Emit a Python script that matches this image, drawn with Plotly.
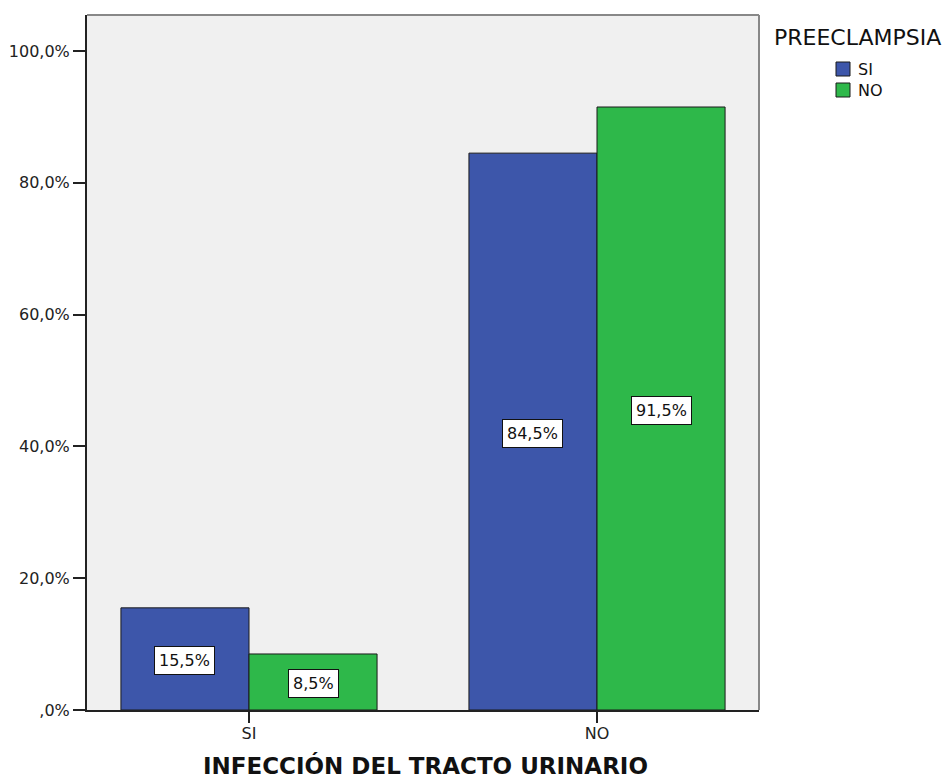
import plotly.graph_objects as go

# Data
categories = ["SI", "NO"]           # INFECCIÓN DEL TRACTO URINARIO
preeclampsia_si = [15.5, 84.5]      # % within PREECLAMPSIA = SI
preeclampsia_no = [8.5, 91.5]       # % within PREECLAMPSIA = NO
series_names = ["SI", "NO"]
y_tick_vals = [0, 20, 40, 60, 80, 100]
y_tick_text = [",0%", "20,0%", "40,0%", "60,0%", "80,0%", "100,0%"]

BLUE = "#3d56aa"
GREEN = "#2eb84a"
EDGE = "#1a1a1a"
FONT = "DejaVu Sans, Arial, sans-serif"

W, H = 952, 778
ML, MR, MT, MB = 87, 193, 15, 68
PW, PH = W - ML - MR, H - MT - MB


def px_to_paper(px, py):
    return (px - ML) / PW, (H - MB - py) / PH


x_pos = list(range(len(categories)))

fig = go.Figure()
for name, vals, color in ((series_names[0], preeclampsia_si, BLUE),
                          (series_names[1], preeclampsia_no, GREEN)):
    fig.add_trace(go.Bar(
        x=x_pos, y=vals, name=name,
        marker=dict(color=color, line=dict(color=EDGE, width=1)),
    ))

# Value labels in white boxes at the middle of each bar
bar_w = 0.368
for i, (a, b) in enumerate(zip(preeclampsia_si, preeclampsia_no)):
    for val, dx in ((a, -bar_w / 2), (b, bar_w / 2)):
        fig.add_annotation(
            x=x_pos[i] + dx, y=val / 2, yshift=-2,
            text=f"{val:.1f}%".replace(".", ","),
            showarrow=False,
            font=dict(family=FONT, size=16, color="#111"),
            bgcolor="white", bordercolor="#111", borderwidth=1, borderpad=4,
        )

# Legend: title plus colour swatches
tx, ty = px_to_paper(772, 38)
fig.add_annotation(
    xref="paper", yref="paper", x=tx, y=ty, xanchor="left", yanchor="middle",
    text="PREECLAMPSIA", showarrow=False,
    font=dict(family=FONT, size=22, color="#111"),
)
for k, (name, color) in enumerate(zip(series_names, (BLUE, GREEN))):
    top = 62 + 21 * k
    x0, y0 = px_to_paper(836, top + 14)
    x1, y1 = px_to_paper(850, top)
    fig.add_shape(type="rect", xref="paper", yref="paper",
                  x0=x0, x1=x1, y0=y0, y1=y1,
                  fillcolor=color, line=dict(color=EDGE, width=1))
    lx, ly = px_to_paper(856, top + 7)
    fig.add_annotation(
        xref="paper", yref="paper", x=lx, y=ly, xanchor="left", yanchor="middle",
        text=name, showarrow=False,
        font=dict(family=FONT, size=16, color="#111"),
    )

# X axis title
ax, ay = px_to_paper(425, 765)
fig.add_annotation(
    xref="paper", yref="paper", x=ax, y=ay, xanchor="center", yanchor="middle",
    text="<b>INFECCIÓN DEL TRACTO URINARIO</b>", showarrow=False,
    font=dict(family=FONT, size=23, color="#111"),
)

# Gray frame on top and right sides
fig.add_shape(type="line", xref="paper", yref="paper", x0=0, x1=1, y0=1, y1=1,
              line=dict(color="#888888", width=2))
fig.add_shape(type="line", xref="paper", yref="paper", x0=1, x1=1, y0=0, y1=1,
              line=dict(color="#888888", width=2))

fig.update_layout(
    width=W, height=H,
    margin=dict(l=ML, r=MR, t=MT, b=MB, autoexpand=False),
    paper_bgcolor="white", plot_bgcolor="#f0f0f0",
    barmode="group", bargap=0.264, bargroupgap=0,
    font=dict(family=FONT, size=16, color="#222"),
    showlegend=False,
    xaxis=dict(
        range=[-0.4655, 1.4655],
        tickvals=x_pos, ticktext=categories,
        ticks="outside", ticklen=11, tickcolor="#222", tickwidth=2,
        ticklabelstandoff=-3,
        showline=True, linecolor="#222", linewidth=2,
        showgrid=False, zeroline=False, automargin=False,
        tickfont=dict(family=FONT, size=16, color="#222"),
    ),
    yaxis=dict(
        range=[0, 105.46],
        tickvals=y_tick_vals, ticktext=y_tick_text,
        ticks="outside", ticklen=12, tickcolor="#222", tickwidth=2,
        showline=True, linecolor="#222", linewidth=2,
        showgrid=False, zeroline=False, automargin=False,
        tickfont=dict(family=FONT, size=16, color="#222"),
    ),
)

fig.write_html("out.html")
